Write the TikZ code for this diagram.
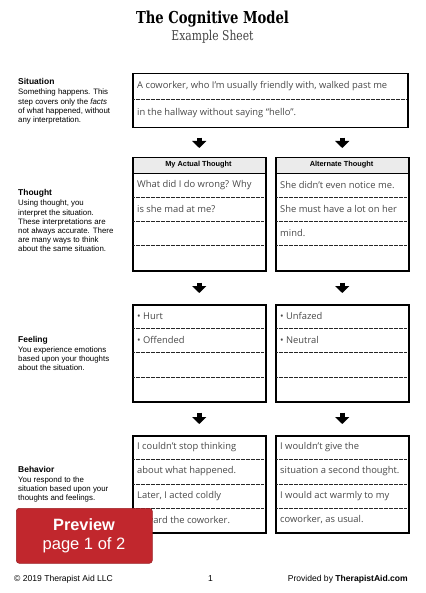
\documentclass[tikz,border=0pt]{standalone}
\usepackage{fontspec}
\setmainfont{Liberation Sans}
\newfontfamily\titlefont[FakeStretch=0.8]{DejaVu Serif}
\newfontfamily\handfont{Open Sans}
\usetikzlibrary{arrows.meta,calc}
\definecolor{handgray}{HTML}{484848}
\definecolor{headgray}{HTML}{EBEBEB}
\definecolor{previewred}{HTML}{C1272D}
\definecolor{subgray}{HTML}{444444}
\begin{document}
\begin{tikzpicture}[x=1bp,y=-1bp,
  box/.style={draw=black, line width=1.5bp, inner sep=0, anchor=north west},
  rowline/.style={draw=black!85, line width=1bp, dash pattern=on 2bp off 0.5bp},
  hand/.style={anchor=west, inner sep=0, font=\handfont\fontsize{9.4}{10}\selectfont, text=handgray},
  blockarrow/.style={line width=5bp, -{Triangle[width=14bp,length=7bp]}},
  desc/.style={anchor=north west, inner sep=0, align=left, font=\fontsize{7.9}{9.2}\selectfont},
  headtxt/.style={font=\bfseries\fontsize{7.4}{8}\selectfont, inner sep=0}
]
\useasboundingbox (0,0) rectangle (425,593);

% title
\node[font=\titlefont\bfseries\fontsize{16.5}{18}\selectfont, inner sep=0] (title) at (212.5,19) {The Cognitive Model};
\node[font=\titlefont\fontsize{13.5}{15}\selectfont, text=subgray, inner sep=0] (sub) at (212.5,37) {Example Sheet};

% left descriptions
\node[desc] (dsit) at (18,78.5) {\textbf{\fontsize{8.5}{9}\selectfont Situation}\\[1pt]Something happens. This\\step covers only the \textit{facts}\\of what happened, without\\any interpretation.};
\node[desc] (dth) at (18,189.5) {\textbf{\fontsize{8.5}{9}\selectfont Thought}\\[1pt]Using thought, you\\interpret the situation.\\These interpretations are\\not always accurate. There\\are many ways to think\\about the same situation.};
\node[desc] (dfe) at (18,336) {\textbf{\fontsize{8.5}{9}\selectfont Feeling}\\[1pt]You experience emotions\\based upon your thoughts\\about the situation.};
\node[desc] (dbe) at (18,466) {\textbf{\fontsize{8.5}{9}\selectfont Behavior}\\[1pt]You respond to the\\situation based upon your\\thoughts and feelings.};

% situation box
\node[box, minimum width=275bp, minimum height=54bp] (sit) at (132,73) {};
\draw[rowline] (133,100) -- (406,100);
\node[hand] (s1) at (137,86.5) {A coworker, who I’m usually friendly with, walked past me};
\node[hand] (s2) at (137,113.5) {in the hallway without saying “hello”.};

% thought boxes
\fill[headgray] (132,157) rectangle (265,173);
\fill[headgray] (275,157) rectangle (408,173);
\node[box, minimum width=133bp, minimum height=113bp] (t1) at (132,157) {};
\node[box, minimum width=133bp, minimum height=113bp] (t2) at (275,157) {};
\draw[black, line width=1bp] (132,173) -- (265,173) (275,173) -- (408,173);
\foreach \y in {197,221,245} {
  \draw[rowline] (133,\y) -- (264,\y);
  \draw[rowline] (276,\y) -- (407,\y);
}
\node[headtxt] (h1) at (198.5,165) {My Actual Thought};
\node[headtxt] (h2) at (341.5,165) {Alternate Thought};
\node[hand] (t1a) at (137,185) {What did I do wrong? Why};
\node[hand] (t1b) at (137,209) {is she mad at me?};
\node[hand] (t2a) at (280,185) {She didn’t even notice me.};
\node[hand] (t2b) at (280,209) {She must have a lot on her};
\node[hand] (t2c) at (280,233) {mind.};

% feeling boxes
\node[box, minimum width=133bp, minimum height=97bp] (f1) at (132,304) {};
\node[box, minimum width=133bp, minimum height=97bp] (f2) at (275,304) {};
\foreach \y in {328,352,377} {
  \draw[rowline] (133,\y) -- (264,\y);
  \draw[rowline] (276,\y) -- (407,\y);
}
\node[hand] (f1a) at (137,316) {• Hurt};
\node[hand] (f1b) at (137,340) {• Offended};
\node[hand] (f2a) at (280,316) {• Unfazed};
\node[hand] (f2b) at (280,340) {• Neutral};

% behavior boxes
\node[box, minimum width=133bp, minimum height=97bp] (b1) at (132,435) {};
\node[box, minimum width=133bp, minimum height=97bp] (b2) at (275,435) {};
\foreach \y in {459,484,508} {
  \draw[rowline] (133,\y) -- (264,\y);
  \draw[rowline] (276,\y) -- (407,\y);
}
\node[hand] (b1a) at (137,447) {I couldn’t stop thinking};
\node[hand] (b1b) at (137,471.5) {about what happened.};
\node[hand] (b1c) at (137,496) {Later, I acted coldly};
\node[hand] (b1d) at (137,520) {toward the coworker.};
\node[hand] (b2a) at (280,447) {I wouldn’t give the};
\node[hand] (b2b) at (280,471.5) {situation a second thought.};
\node[hand] (b2c) at (280,496) {I would act warmly to my};
\node[hand] (b2d) at (280,520) {coworker, as usual.};

% arrows
\draw[blockarrow] ($(sit.south -| t1.north)+(0,9)$) -- ($(t1.north)+(0,-9)$);
\draw[blockarrow] ($(sit.south -| t2.north)+(0,9)$) -- ($(t2.north)+(0,-9)$);
\draw[blockarrow] ($(t1.south)+(0,11)$) -- ($(f1.north)+(0,-11)$);
\draw[blockarrow] ($(t2.south)+(0,11)$) -- ($(f2.north)+(0,-11)$);
\draw[blockarrow] ($(f1.south)+(0,10)$) -- ($(b1.north)+(0,-11)$);
\draw[blockarrow] ($(f2.south)+(0,10)$) -- ($(b2.north)+(0,-11)$);

% preview badge
\node[fill=previewred, draw=previewred!80!black, line width=0.6bp, rounded corners=3bp, minimum width=136bp, minimum height=55bp, anchor=north west, inner sep=0] (prev) at (16,508) {};
\node[font=\bfseries\fontsize{16.4}{18}\selectfont, text=white, inner sep=0] (pv1) at (84,525) {Preview};
\node[font=\fontsize{16.6}{18}\selectfont, text=white, inner sep=0] (pv2) at (84,545.5) {page 1 of 2};

% footer
\node[anchor=base west, inner sep=0, font=\fontsize{8.6}{10}\selectfont] (copy) at (14,581.5) {© 2019 Therapist Aid LLC};
\node[anchor=base, inner sep=0, font=\fontsize{8.6}{10}\selectfont] (pg) at (210.5,581.5) {1};
\node[anchor=base east, inner sep=0, font=\fontsize{8.6}{10}\selectfont] (prov) at (408,581.5) {Provided by \textbf{TherapistAid.com}};
\end{tikzpicture}
\end{document}
